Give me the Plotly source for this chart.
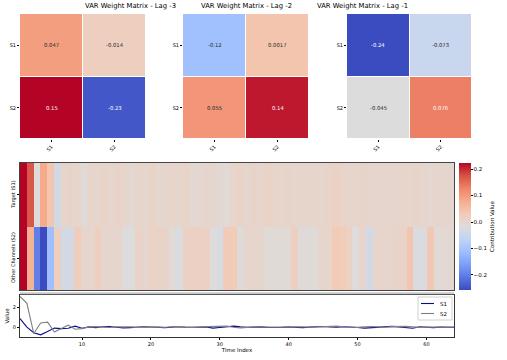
import plotly.graph_objects as go

# ---- data ----
channels = ['S1', 'S2']
lag_titles = ['VAR Weight Matrix - Lag -3', 'VAR Weight Matrix - Lag -2', 'VAR Weight Matrix - Lag -1']
lag3_weights = [[0.047, -0.014], [0.15, -0.23]]
lag2_weights = [[-0.12, 0.0017], [0.055, 0.14]]
lag1_weights = [[-0.24, -0.073], [-0.045, 0.076]]

row_labels = ['Target (S1)', 'Other Channels (S2)']
time_index = list(range(1, 65))
target_contrib = [
    0.223, 0.17, -0.015, 0.08, 0.04, -0.035, 0.005, 0.008, 0.003, -0.012,
    0.006, 0.002, 0.008, 0.004, 0.01, 0.003, -0.004, 0.006, 0.002, 0.008,
    -0.002, 0.004, 0.006, 0.002, 0.008, -0.003, -0.002, 0.003, 0.0, -0.005,
    -0.008, 0.006, 0.01, 0.004, 0.008, 0.002, 0.012, 0.006, 0.004, 0.008,
    0.002, 0.004, 0.002, 0.006, 0.004, 0.008, 0.014, 0.01, 0.004, 0.002,
    0.008, 0.004, 0.002, 0.006, 0.004, 0.002, 0.006, 0.003, 0.008, 0.002,
    -0.002, 0.004, 0.002, 0.0,
]
other_contrib = [
    0.223, 0.07, -0.2, -0.257, -0.11, 0.02, -0.035, -0.035, 0.025, 0.005,
    0.004, 0.022, 0.003, 0.002, 0.003, -0.018, -0.018, 0.01, 0.004, 0.012,
    0.008, 0.01, -0.012, -0.022, 0.015, 0.016, 0.014, 0.015, -0.015, -0.03,
    0.03, 0.028, -0.012, 0.004, 0.006, 0.002, -0.01, -0.008, -0.01, -0.006,
    0.02, -0.012, -0.012, -0.01, 0.004, 0.006, 0.03, 0.028, 0.015, -0.015,
    0.004, -0.035, 0.004, 0.006, 0.002, 0.008, 0.01, 0.04, -0.025, -0.022,
    0.035, -0.008, -0.006, -0.004,
]

series_names = ['S1', 'S2']
series_colors = ['#0a0a96', 'gray']
s1_values = [
    0.87, 0.0, -0.57, -0.78, -0.45, -0.1, -0.15, -0.12, 0.1, -0.12,
    0.02, -0.05, 0.03, 0.05, -0.02, -0.08, -0.05, 0.02, 0.04, 0.01,
    -0.03, -0.06, 0.0, 0.03, -0.02, -0.05, -0.02, 0.02, -0.1, -0.04,
    0.05, 0.1, 0.02, -0.03, 0.0, 0.02, -0.04, -0.06, -0.02, 0.01,
    -0.03, -0.05, 0.0, 0.03, 0.06, 0.01, -0.02, 0.04, 0.02, -0.04,
    -0.1, -0.05, 0.02, 0.05, 0.08, 0.02, -0.06, -0.12, 0.03, -0.02,
    -0.05, 0.0, 0.02, -0.01,
]
s2_values = [
    3.1, 2.4, -0.65, 0.42, 0.5, -0.5, -0.15, 0.2, -0.22, -0.15,
    0.02, 0.05, 0.0, -0.04, 0.03, 0.06, 0.02, -0.03, 0.0, 0.04,
    0.02, -0.02, 0.03, 0.05, 0.0, -0.03, 0.02, 0.04, 0.08, 0.06,
    0.1, -0.02, -0.08, -0.03, 0.02, 0.04, 0.0, -0.02, 0.01, 0.03,
    0.05, 0.02, -0.02, 0.0, 0.03, 0.06, 0.1, 0.04, 0.0, -0.03,
    0.04, 0.07, 0.02, -0.02, 0.05, 0.1, 0.08, 0.02, -0.03, 0.01,
    0.03, 0.0, -0.02, 0.01,
]

# matplotlib-like coolwarm
coolwarm = [
    [0.0, '#3b4cc0'], [0.1, '#5977e3'], [0.2, '#7b9ff9'], [0.3, '#9ebeff'],
    [0.4, '#c0d4f5'], [0.5, '#dddcdc'], [0.6, '#f2cbb7'], [0.7, '#f7ac8e'],
    [0.8, '#ee8468'], [0.9, '#d65244'], [1.0, '#b40426'],
]

FONT = 'DejaVu Sans'
W, H = 507, 360


def px_x(p):
    return p / W


def px_y(p):
    return 1 - p / H


def tfont(size):
    return dict(size=size, family=FONT, color='black')


fig = go.Figure()

all_weights = [lag3_weights, lag2_weights, lag1_weights]
wmin = min(v for m in all_weights for r in m for v in r)
wmax = max(v for m in all_weights for r in m for v in r)

top_domains = [(20, 146), (183, 309), (347, 472)]
annotations = []
for i, (weights, title) in enumerate(zip(all_weights, lag_titles)):
    n = i + 1
    xa = 'x' if n == 1 else f'x{n}'
    ya = 'y' if n == 1 else f'y{n}'
    fig.add_trace(go.Heatmap(
        z=weights, x=channels, y=channels,
        colorscale=coolwarm, zmin=wmin, zmax=wmax,
        showscale=False, xgap=1, ygap=1,
        xaxis=xa, yaxis=ya,
        hovertemplate='%{y} ← %{x}: %{z}<extra></extra>'
    ))
    for r, row_name in enumerate(channels):
        for c, col_name in enumerate(channels):
            v = weights[r][c]
            t = (v - wmin) / (wmax - wmin)
            annotations.append(dict(
                x=col_name, y=row_name, xref=xa, yref=ya,
                text='{:.2g}'.format(v), showarrow=False,
                font=dict(size=5.3, family=FONT, color='white' if (t < 0.15 or t > 0.78) else '#262626')
            ))
    x0, x1 = top_domains[i]
    annotations.append(dict(
        x=(px_x(x0) + px_x(x1)) / 2, y=px_y(6), xref='paper', yref='paper',
        text=title, showarrow=False, font=tfont(6.8), yanchor='middle'
    ))
    fig.layout[f'xaxis{n}'] = dict(
        domain=[px_x(x0), px_x(x1)], anchor=ya, tickangle=-45,
        ticks='outside', ticklen=2, tickcolor='black', tickfont=tfont(5),
        showgrid=False, zeroline=False, showline=False, automargin=False
    )
    fig.layout[f'yaxis{n}'] = dict(
        domain=[px_y(139), px_y(14)], anchor=xa, autorange='reversed',
        ticks='outside', ticklen=2, tickcolor='black', tickfont=tfont(5),
        showgrid=False, zeroline=False, showline=False, automargin=False
    )

# contribution heatmap
fig.add_trace(go.Heatmap(
    z=[target_contrib, other_contrib], x=time_index, y=row_labels,
    colorscale=coolwarm,
    zmin=min(target_contrib + other_contrib), zmax=max(target_contrib + other_contrib),
    xaxis='x4', yaxis='y4',
    colorbar=dict(
        x=px_x(459), xanchor='left', thickness=12,
        y=px_y(290), yanchor='bottom', len=(290 - 163) / H, lenmode='fraction',
        tickvals=[-0.2, -0.1, 0.0, 0.1, 0.2], tickformat='.1f',
        ticks='outside', ticklen=2, tickcolor='black', tickfont=tfont(5.5),
        outlinewidth=0, xpad=0, ypad=0,
        title=dict(text='Contribution Value', side='right', font=tfont(5.5))
    ),
    hovertemplate='t=%{x}<br>%{y}: %{z:.3f}<extra></extra>'
))
fig.layout['xaxis4'] = dict(
    domain=[px_x(20), px_x(454)], anchor='y4', range=[0.5, 64.5],
    showticklabels=False, ticks='', showgrid=False, zeroline=False,
    showline=True, mirror=True, linecolor='#444', linewidth=1, automargin=False
)
fig.layout['yaxis4'] = dict(
    domain=[px_y(290), px_y(163)], anchor='x4', autorange='reversed',
    tickangle=-90, ticks='outside', ticklen=2, tickcolor='black', tickfont=tfont(5),
    showgrid=False, zeroline=False,
    showline=True, mirror=True, linecolor='#444', linewidth=1, automargin=False
)

# time series
for name, vals, color in zip(series_names, [s1_values, s2_values], series_colors):
    fig.add_trace(go.Scatter(
        x=time_index, y=vals, mode='lines', name=name,
        line=dict(color=color, width=1.1), xaxis='x5', yaxis='y5', showlegend=False
    ))
fig.layout['xaxis5'] = dict(
    domain=[px_x(20), px_x(454)], anchor='y5', range=[1, 64],
    tickvals=[10, 20, 30, 40, 50, 60], ticks='outside', ticklen=2, tickcolor='black',
    tickfont=tfont(5), showgrid=False, zeroline=False,
    showline=True, mirror=True, linecolor='#333', linewidth=1, automargin=False,
    title=dict(text='Time Index', font=tfont(5.5), standoff=2)
)
fig.layout['yaxis5'] = dict(
    domain=[px_y(337), px_y(295)], anchor='x5', range=[-1.0, 3.25],
    tickvals=[0, 2], ticks='outside', ticklen=2, tickcolor='black',
    tickfont=tfont(5), showgrid=False, zeroline=False,
    showline=True, mirror=True, linecolor='#333', linewidth=1, automargin=False,
    title=dict(text='Value', font=tfont(5.5), standoff=2)
)

# light band along the top of the series panel
fig.add_shape(type='line', xref='x5 domain', yref='y5 domain',
              x0=0, x1=1, y0=1.04, y1=1.04, line=dict(color='#c8c8c8', width=2))

# compact legend box (upper right of series panel)
fig.add_shape(type='rect', xref='paper', yref='paper',
              x0=px_x(418), x1=px_x(452), y0=px_y(320), y1=px_y(297),
              line=dict(color='#d0d0d0', width=1), fillcolor='white')
for k, (name, color) in enumerate(zip(series_names, series_colors)):
    yk = px_y(303.5 + k * 10)
    fig.add_shape(type='line', xref='paper', yref='paper',
                  x0=px_x(421), x1=px_x(434), y0=yk, y1=yk,
                  line=dict(color=color, width=1.1))
    annotations.append(dict(
        x=px_x(438), y=yk, xref='paper', yref='paper', text=name,
        showarrow=False, xanchor='left', yanchor='middle', font=tfont(5.5)
    ))

fig.update_layout(
    width=W, height=H,
    margin=dict(l=0, r=0, t=0, b=0, autoexpand=False),
    paper_bgcolor='white', plot_bgcolor='white',
    font=dict(family=FONT, color='black'),
    annotations=annotations,
    showlegend=False,
)

fig.write_html('out.html', config={'displayModeBar': False},
               post_script="document.body.style.margin='0';")
